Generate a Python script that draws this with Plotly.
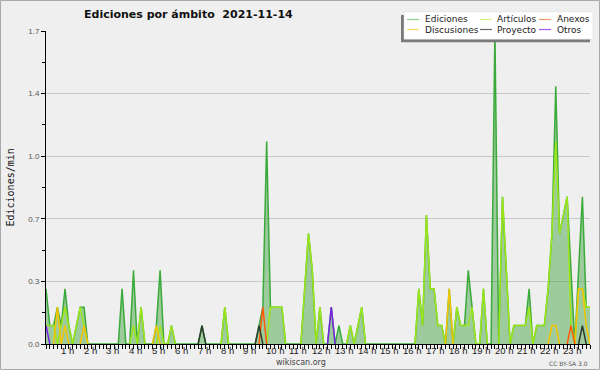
import plotly.graph_objects as go

# ---------------- data (10-minute bins, edits per minute) ----------------
ediciones = [
    0.3, 0.1, 0.1, 0.2, 0.1, 0.3,    # 0 h
    0.1, 0, 0.1, 0.2, 0.2, 0,        # 1 h
    0, 0, 0, 0, 0, 0,                # 2 h
    0, 0, 0.3, 0, 0, 0.4,            # 3 h
    0, 0.2, 0, 0, 0, 0.1,            # 4 h
    0.4, 0, 0, 0.1, 0, 0,            # 5 h
    0, 0, 0, 0, 0, 0.1,              # 6 h
    0, 0, 0, 0, 0, 0.2,              # 7 h
    0, 0, 0, 0, 0, 0,                # 8 h
    0, 0, 0.1, 0.2, 1.1, 0.2,        # 9 h
    0.2, 0.2, 0.2, 0, 0, 0,          # 10 h
    0, 0, 0.3, 0.6, 0.4, 0,          # 11 h
    0.2, 0, 0, 0.2, 0, 0.1,          # 12 h
    0, 0, 0.1, 0, 0.1, 0.2,          # 13 h
    0, 0, 0, 0, 0, 0,                # 14 h
    0, 0, 0, 0, 0, 0,                # 15 h
    0, 0, 0.3, 0.1, 0.7, 0.3,        # 16 h
    0.3, 0.1, 0.1, 0, 0.3, 0,        # 17 h
    0.2, 0.1, 0.1, 0.4, 0.2, 0,      # 18 h
    0, 0.3, 0, 0, 1.7, 0,            # 19 h
    0.8, 0.4, 0, 0.1, 0.1, 0.1,      # 20 h
    0.1, 0.3, 0, 0.1, 0.1, 0.1,      # 21 h
    0.3, 0.6, 1.4, 0.6, 0.7, 0.8,    # 22 h
    0.4, 0, 0.4, 0.8, 0.2, 0.2,      # 23 h
]
articulos = [
    0.1, 0.1, 0.1, 0, 0.1, 0.2,
    0.1, 0, 0.1, 0.2, 0.1, 0,
    0, 0, 0, 0, 0, 0,
    0, 0, 0, 0, 0, 0.1,
    0, 0.2, 0, 0, 0, 0,
    0.1, 0, 0, 0.1, 0, 0,
    0, 0, 0, 0, 0, 0,
    0, 0, 0, 0, 0, 0.2,
    0, 0, 0, 0, 0, 0,
    0, 0, 0, 0, 0, 0.2,
    0.2, 0.2, 0.2, 0, 0, 0,
    0, 0, 0.3, 0.6, 0.4, 0,
    0.2, 0, 0, 0, 0, 0,
    0, 0, 0.1, 0, 0.1, 0.2,
    0, 0, 0, 0, 0, 0,
    0, 0, 0, 0, 0, 0,
    0, 0, 0.3, 0.1, 0.7, 0.3,
    0.3, 0.1, 0.1, 0, 0, 0,
    0.2, 0.1, 0.1, 0.1, 0.2, 0,
    0, 0.3, 0, 0, 0, 0,
    0.8, 0.4, 0, 0.1, 0.1, 0.1,
    0.1, 0.2, 0, 0.1, 0.1, 0.1,
    0.3, 0.6, 1.1, 0.6, 0.7, 0.8,
    0.1, 0, 0.3, 0.3, 0.2, 0.2,
]
discusiones = [0] * 144
for i, v in [(3, 0.2), (5, 0.1), (10, 0.1), (29, 0.1), (106, 0.3),
             (133, 0.1), (134, 0.1), (140, 0.3), (141, 0.3), (142, 0.1)]:
    discusiones[i] = v
anexos = [0] * 144
for i, v in [(57, 0.2), (138, 0.1)]:
    anexos[i] = v
proyecto = [0] * 144
for i, v in [(41, 0.1), (56, 0.1), (141, 0.1)]:
    proyecto[i] = v
otros = [0] * 144
for i, v in [(0, 0.1), (75, 0.2)]:
    otros[i] = v

hour_ticks = list(range(1, 24))
hour_labels = ["1 h", "2 h", "3 h", "4 h", "5 h", "6 h", "7 h", "8 h", "9 h", "10 h",
               "11 h", "12 h", "13 h", "14 h", "15 h", "16 h", "17 h", "18 h", "19 h",
               "20 h", "21 h", "22 h", "23 h"]
y_tick_vals = [0, 0.34, 0.68, 1.02, 1.36, 1.7]
y_tick_text = ["0.0", "0.3", "0.7", "1.0", "1.4", "1.7"]

legend_names = [["Ediciones", "Artículos", "Anexos"],
                ["Discusiones", "Proyecto", "Otros"]]
legend_colors = [["#8fd08f", "#d4f27a", "#f59a6a"],
                 ["#ffd75e", "#666666", "#a15ef0"]]

# ---------------- figure ----------------
W, H = 600, 370
L, R, T, B = 46, 10, 31, 26
PW, PH = W - L - R, H - T - B
BG = "#efefef"


def px(x):
    return (x - L) / PW


def py(y):
    return (H - B - y) / PH


hours = [i / 6 for i in range(len(ediciones))]


def thin(vals):
    n = len(vals)
    out = []
    for i, v in enumerate(vals):
        keep = v != 0 or (i > 0 and vals[i - 1] != 0) or (i < n - 1 and vals[i + 1] != 0)
        out.append(v if keep else None)
    return out


fig = go.Figure()
fig.add_trace(go.Scatter(x=hours, y=ediciones, mode="lines",
                         line=dict(color="#3aaa3a", width=1.5),
                         fill="tozeroy", fillcolor="rgba(60,160,60,0.45)",
                         hoverinfo="skip"))
series = [(articulos, "#9de61a"), (discusiones, "#f5c400"), (anexos, "#ff5a0a"),
          (proyecto, "#2c3a2c"), (otros, "#7a1fe8")]
for vals, col in series:
    fig.add_trace(go.Scatter(x=hours, y=thin(vals), mode="lines",
                             line=dict(color=col, width=1.5),
                             connectgaps=False, hoverinfo="skip"))

shapes = []
annotations = []

# frame around the image
shapes.append(dict(type="rect", xref="paper", yref="paper",
                   x0=px(0.5), x1=px(W - 0.5), y0=py(H - 0.5), y1=py(0.5),
                   line=dict(color="#a8a8a8", width=1), layer="above"))

# legend box with shadow
shapes.append(dict(type="rect", xref="paper", yref="paper",
                   x0=px(401), x1=px(590), y0=py(42.3), y1=py(15),
                   fillcolor="#7a7a7a", line=dict(width=0), layer="above"))
shapes.append(dict(type="rect", xref="paper", yref="paper",
                   x0=px(404), x1=px(593), y0=py(39.3), y1=py(11.7),
                   fillcolor="#ffffff", line=dict(color="#d8d8d8", width=0.5), layer="above"))
col_line_x = [(407, 419), (480, 492), (539, 551)]
col_text_x = [424, 496, 556]
row_y = [19.5, 29.5]
for r in range(2):
    for c in range(3):
        shapes.append(dict(type="line", xref="paper", yref="paper",
                           x0=px(col_line_x[c][0]), x1=px(col_line_x[c][1]),
                           y0=py(row_y[r]), y1=py(row_y[r]),
                           line=dict(color=legend_colors[r][c], width=1.2), layer="above"))
        annotations.append(dict(xref="paper", yref="paper", x=px(col_text_x[c]), y=py(row_y[r]),
                                text=legend_names[r][c], showarrow=False,
                                xanchor="left", yanchor="middle", borderpad=0,
                                font=dict(family="DejaVu Sans", size=9, color="#222222")))

# title
annotations.append(dict(xref="paper", yref="paper", x=px(188), y=py(14),
                        text="<b>Ediciones por ámbito\u00a0 2021-11-14</b>", showarrow=False,
                        xanchor="center", yanchor="middle", borderpad=0,
                        font=dict(family="DejaVu Sans", size=11, color="#111111")))
# y axis title
annotations.append(dict(xref="paper", yref="paper", x=px(9.5), y=py(188),
                        text="Ediciones/min", showarrow=False, textangle=-90,
                        xanchor="center", yanchor="middle", borderpad=0,
                        font=dict(family="DejaVu Sans Mono", size=10, color="#111111")))
# footer texts
annotations.append(dict(xref="paper", yref="paper", x=px(300.5), y=py(362),
                        text="wikiscan.org", showarrow=False,
                        xanchor="center", yanchor="middle", borderpad=0,
                        font=dict(family="DejaVu Sans", size=8, color="#444444")))
annotations.append(dict(xref="paper", yref="paper", x=px(589), y=py(363),
                        text="CC BY-SA 3.0", showarrow=False,
                        xanchor="right", yanchor="middle", borderpad=0,
                        font=dict(family="DejaVu Sans", size=6, color="#555555")))
# hour labels
for h, lab in zip(hour_ticks, hour_labels):
    annotations.append(dict(xref="x", yref="paper", x=h, y=0, text=lab, showarrow=False,
                            xanchor="left", yanchor="top", xshift=-9, yshift=0.5, borderpad=0,
                            font=dict(family="Liberation Sans", size=9.5, color="#222222")))

fig.update_layout(
    width=W, height=H,
    margin=dict(l=L, r=R, t=T, b=B, pad=0),
    paper_bgcolor=BG, plot_bgcolor=BG,
    showlegend=False,
    shapes=shapes, annotations=annotations,
    xaxis=dict(range=[0, hours[-1]], showline=True, linecolor="#000000", linewidth=1,
               ticks="outside", ticklen=4, tickcolor="#000000", tickwidth=1,
               tickvals=hour_ticks, showticklabels=False,
               showgrid=False, zeroline=False, fixedrange=True,
               minor=dict(ticks="outside", ticklen=4, tickcolor="#000000",
                          tick0=0, dtick=1 / 6, showgrid=False)),
    yaxis=dict(range=[0, 1.7], showline=True, linecolor="#000000", linewidth=1,
               ticks="outside", ticklen=4, tickcolor="#000000", tickwidth=1,
               tickvals=y_tick_vals, ticktext=y_tick_text,
               tickfont=dict(family="Liberation Sans", size=8, color="#555555"),
               showgrid=True, gridcolor="#c8c8c8", gridwidth=1,
               zeroline=False, fixedrange=True,
               minor=dict(ticks="outside", ticklen=3, tickcolor="#000000",
                          tick0=0, dtick=0.17, showgrid=False)),
)

fig.write_html("out.html", config={"displayModeBar": False},
               post_script="document.body.style.margin='0';document.body.style.overflow='hidden';")
